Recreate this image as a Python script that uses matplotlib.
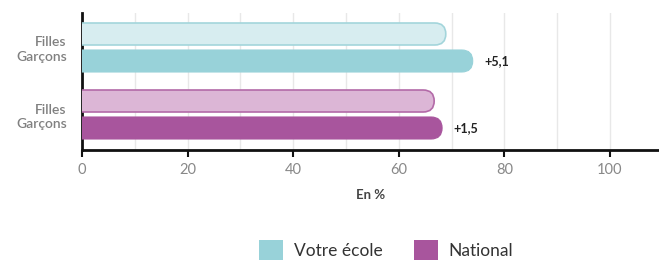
import numpy as np
import matplotlib.pyplot as plt
from matplotlib.patches import FancyBboxPatch, Patch

# Donnees
groupes = ['Votre école', 'National']
filles = [68.9, 66.7]
garcons = [74.0, 68.2]
ecarts = ['+5,1', '+1,5']
labels_y = ['Filles\nGarçons', 'Filles\nGarçons']
ticks_x = [0, 20, 40, 60, 80, 100]

couleurs_filles = ['#d7edf0', '#dcb6d6']
bords_filles = ['#a3d5db', '#b36aa8']
couleurs_garcons = ['#98d2d9', '#a8559d']

plt.rcParams['font.family'] = ['Lato', 'DejaVu Sans']

fig = plt.figure(figsize=(6.59, 2.63), dpi=100)
ax = fig.add_axes([82 / 659, 1 - 150 / 263, (659 - 82) / 659, 137 / 263])

px_x = 5.28   # pixels par unite en x
px_y = 67.0   # pixels par unite en y
ax.set_xlim(0, (659 - 82) / px_x)
ax.set_ylim((150 - 47.5) / px_y, (13 - 47.5) / px_y)

h = 22 / px_y
dec = 13.5 / px_y
r = 11 / px_x
aspect = px_x / px_y

pos = np.arange(len(groupes))


def barre_arrondie(y, v, fc, ec, lw):
    b = ax.barh(y, v, height=h, color='none')[0]
    x0, y0 = b.get_x(), b.get_y()
    p = FancyBboxPatch((x0 - r, y0), v + r, h,
                       boxstyle=f'round,pad=0,rounding_size={r}',
                       mutation_aspect=aspect,
                       fc=fc, ec=ec, lw=lw, zorder=3, clip_on=True)
    ax.add_patch(p)


for i in pos:
    barre_arrondie(i - dec, filles[i], couleurs_filles[i], bords_filles[i], 1.2)
    barre_arrondie(i + dec, garcons[i], couleurs_garcons[i], couleurs_garcons[i], 0.8)
    ax.text(garcons[i] + 2.2, i + dec, ecarts[i], va='center', ha='left',
            fontsize=9, fontweight='bold', color='#222222')

ax.set_yticks(pos)
ax.set_yticklabels(labels_y, fontsize=10, color='#808080', fontweight='semibold',
                   linespacing=1.25)
ax.tick_params(axis='y', length=0, pad=11)

ax.set_xticks(ticks_x)
ax.set_xticklabels([str(t) for t in ticks_x], fontsize=10.5, color='#888888')
ax.tick_params(axis='x', length=5, width=1.5, color='#111111', pad=4)
ax.set_xticks(np.arange(0, 110, 10), minor=True)
ax.tick_params(axis='x', which='minor', length=0)
ax.grid(axis='x', which='both', color='#e8e8e8', lw=1, zorder=0)
ax.set_axisbelow(True)

for s in ['top', 'right']:
    ax.spines[s].set_visible(False)
for s in ['left', 'bottom']:
    ax.spines[s].set_color('#111111')
    ax.spines[s].set_linewidth(2)

ax.set_xlabel('En %', fontsize=9.5, fontweight='bold', color='#444444', labelpad=9)

poignees = [Patch(fc=couleurs_garcons[0], ec='none'), Patch(fc=couleurs_garcons[1], ec='none')]
fig.legend(poignees, groupes, loc='center', bbox_to_anchor=(0.586, 0.05), ncol=2,
           frameon=False, fontsize=12.5, handlelength=1.4, handleheight=1.4,
           handletextpad=0.6, columnspacing=1.8, labelcolor='#333333')

fig.savefig('out.png', dpi=100)
